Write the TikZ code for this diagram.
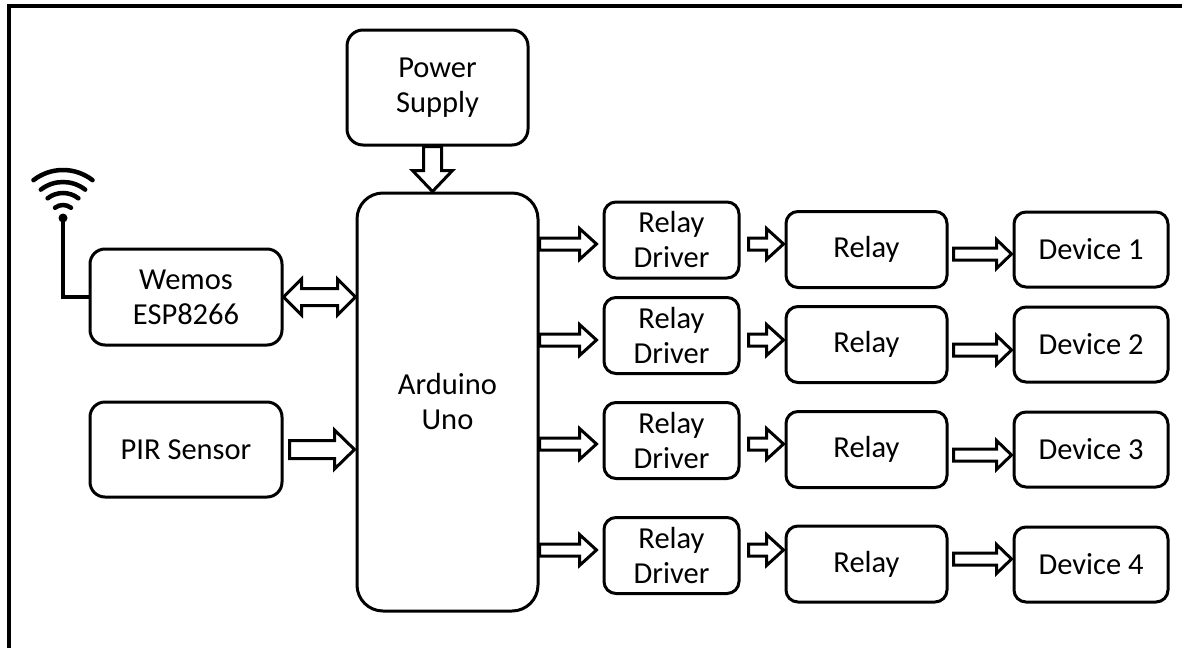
\documentclass[tikz,border=0pt]{standalone}
\usepackage{fontspec}
\setmainfont{Carlito}
\usetikzlibrary{calc}
% right-pointing block arrow: #1 start (gives y), #2 end, #3 start gap, #4 end gap, #5 shaft half, #6 head half, #7 head length
\newcommand\harr[7]{%
  \draw[blk] let \p1=#1, \p2=#2 in
  (\x1+#3,\y1+#5) -- (\x2-#4-#7,\y1+#5) -- (\x2-#4-#7,\y1+#6) -- (\x2-#4,\y1)
  -- (\x2-#4-#7,\y1-#6) -- (\x2-#4-#7,\y1-#5) -- (\x1+#3,\y1-#5) -- cycle;}
% double-headed horizontal block arrow
\newcommand\dharr[5]{%
  \draw[blk] let \p1=#1, \p2=#2 in
  (\x1,\y1) -- (\x1+#5,\y1+#4) -- (\x1+#5,\y1+#3) -- (\x2-#5,\y1+#3) -- (\x2-#5,\y1+#4)
  -- (\x2,\y1) -- (\x2-#5,\y1-#4) -- (\x2-#5,\y1-#3) -- (\x1+#5,\y1-#3) -- (\x1+#5,\y1-#4) -- cycle;}
\begin{document}
\begin{tikzpicture}[x=1pt,y=-1pt,
  box/.style={draw, line width=3pt, rounded corners=12pt, align=center, inner sep=0pt,
    font=\fontsize{30.5}{35}\selectfont},
  drv/.style={box, minimum width=135pt, minimum height=76pt},
  rly/.style={box, minimum width=161pt, minimum height=76pt},
  dev/.style={box, minimum width=154pt, minimum height=75pt},
  blk/.style={draw, line width=3pt, fill=white, line join=miter}]
\useasboundingbox (0,0) rectangle (1182,648);
\draw[line width=4pt] (9,648) -- (9,5.5) -- (1182,5.5);

\node[box, minimum width=181pt, minimum height=115pt, rounded corners=16pt] (ps) at (437.5,87.5) {Power\\Supply};
\node[box, minimum width=181pt, minimum height=418pt, rounded corners=26pt] (ard) at (447.5,402) {Arduino\\Uno};
\node[box, minimum width=192pt, minimum height=96pt, rounded corners=15pt] (wem) at (186,297) {Wemos\\ESP8266};
\node[box, minimum width=192pt, minimum height=95pt, rounded corners=15pt] (pir) at (186,449.5) {PIR Sensor};

\node[drv] (rd1) at (671.5,240) {Relay\\Driver};
\node[drv] (rd2) at (671.5,335.5) {Relay\\Driver};
\node[drv] (rd3) at (671.5,440.5) {Relay\\Driver};
\node[drv] (rd4) at (671.5,555.5) {Relay\\Driver};

\node[rly] (rl1) at (866.5,249.5) {Relay};
\node[rly] (rl2) at (866.5,344.5) {Relay};
\node[rly] (rl3) at (866.5,449.5) {Relay};
\node[rly] (rl4) at (866.5,564) {Relay};

\node[dev] (dv1) at (1091,249.5) {Device 1};
\node[dev] (dv2) at (1091,344.5) {Device 2};
\node[dev] (dv3) at (1091,449.5) {Device 3};
\node[dev] (dv4) at (1091,564.5) {Device 4};

% wifi antenna
\coordinate (wdot) at (63,218);
\fill (wdot) circle[radius=4.5pt];
\foreach \r in {13,25,36,48}
  \draw[line width=4.5pt, line cap=round] (wdot) ++(52:\r pt) arc[start angle=52, end angle=128, radius=\r pt];
\draw[line width=3.5pt] (wdot) |- (wem.west);

% arrow rows
\coordinate (ya1) at (0,244);
\coordinate (ya2) at (0,340);
\coordinate (ya3) at (0,444);
\coordinate (ya4) at (0,550);
\coordinate (yb1) at (0,254);
\coordinate (yb2) at (0,350);
\coordinate (yb3) at (0,455);
\coordinate (yb4) at (0,559);

\foreach \i in {1,2,3,4}{
  \harr{(ard.east |- ya\i)}{(rd\i.west)}{0pt}{6pt}{6pt}{15.5pt}{17pt}
  \harr{(rd\i.east |- ya\i)}{(rl\i.west)}{8pt}{1pt}{6pt}{15.5pt}{17pt}
  \harr{(rl\i.east |- yb\i)}{(dv\i.west)}{5pt}{1pt}{6pt}{14.5pt}{15pt}
}

\harr{(pir.east)}{(ard.west |- pir.east)}{6pt}{1pt}{9pt}{19.5pt}{20pt}
\dharr{(wem.east)}{(ard.west |- wem.east)}{8.5pt}{18pt}{18pt}

% power arrow (vertical)
\draw[blk] let \p1=($(ps.south)+(-5,0)$), \p2=(ard.north) in
  (\x1+9pt,\y1) -- (\x1+9pt,\y2+21pt) -- (\x1+20pt,\y2+21pt) -- (\x1,\y2)
  -- (\x1-20pt,\y2+21pt) -- (\x1-9pt,\y2+21pt) -- (\x1-9pt,\y1) -- cycle;
\end{tikzpicture}
\end{document}
